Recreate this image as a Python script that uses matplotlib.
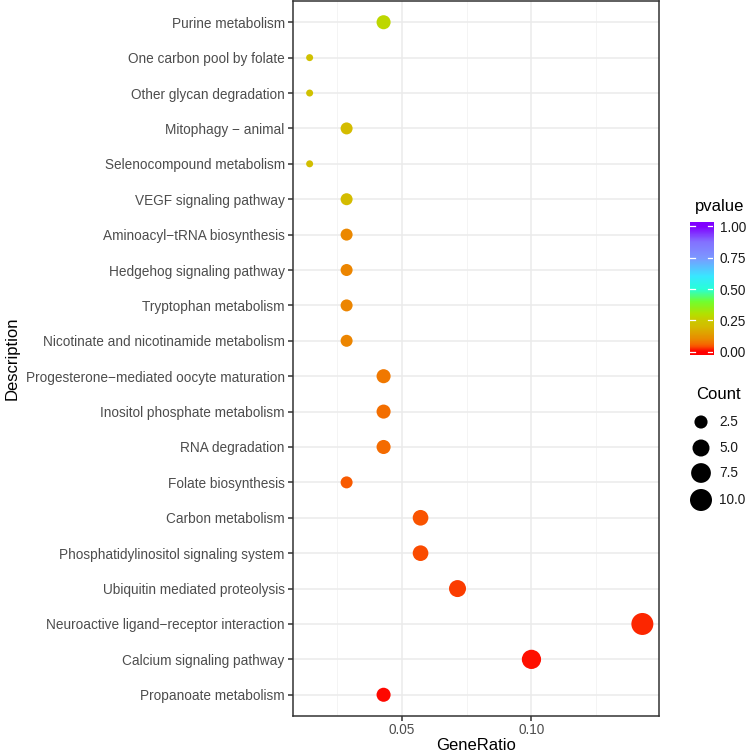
import numpy as np
import matplotlib
matplotlib.use('Agg')
import matplotlib.pyplot as plt
from matplotlib.colors import LinearSegmentedColormap, Normalize

plt.rcParams['font.family'] = ['Liberation Sans', 'DejaVu Sans']

# data, bottom to top
descriptions = [
    'Propanoate metabolism', 'Calcium signaling pathway',
    'Neuroactive ligand\u2212receptor interaction', 'Ubiquitin mediated proteolysis',
    'Phosphatidylinositol signaling system', 'Carbon metabolism',
    'Folate biosynthesis', 'RNA degradation', 'Inositol phosphate metabolism',
    'Progesterone\u2212mediated oocyte maturation',
    'Nicotinate and nicotinamide metabolism', 'Tryptophan metabolism',
    'Hedgehog signaling pathway', 'Aminoacyl\u2212tRNA biosynthesis',
    'VEGF signaling pathway', 'Selenocompound metabolism',
    'Mitophagy \u2212 animal', 'Other glycan degradation',
    'One carbon pool by folate', 'Purine metabolism',
]
counts = [3, 7, 10, 5, 4, 4, 2, 3, 3, 3, 2, 2, 2, 2, 2, 1, 2, 1, 1, 3]
total = 70
pvalues = [0.005, 0.01, 0.02, 0.035, 0.04, 0.045, 0.05, 0.065, 0.07, 0.08,
           0.095, 0.095, 0.095, 0.1, 0.2, 0.21, 0.2, 0.22, 0.22, 0.28]
gene_ratio = [c / total for c in counts]

# colour scale like the ggplot gradient
cmap = LinearSegmentedColormap.from_list('pv', [
    (0.0, '#FF0000'), (0.05, '#F86000'), (0.1, '#EA8A00'), (0.2, '#D4BC00'),
    (0.25, '#CACA00'), (0.3, '#B4E000'), (0.4, '#70FF30'), (0.5, '#28FFD8'),
    (0.6, '#38E8FF'), (0.75, '#7C98FF'), (0.88, '#8470FF'), (1.0, '#8000FF')])
norm = Normalize(0, 1)

cmin, cmax = min(counts), max(counts)


def dot_size(c):
    # diameter in px, area scaled like scale_size
    d = 7 + 15 * np.sqrt((np.asarray(c, float) - cmin) / (cmax - cmin))
    d_pt = d * 72 / 100
    return d_pt ** 2


fig = plt.figure(figsize=(7.47, 7.56), dpi=100)
ax = fig.add_axes([293 / 747, 1 - 716 / 756, 366 / 747, 715 / 756])

y = np.arange(1, len(descriptions) + 1)
ax.scatter(gene_ratio, y, s=dot_size(counts), c=pvalues, cmap=cmap, norm=norm,
           linewidths=0, zorder=3)

ax.set_ylim(0.4, len(descriptions) + 0.6)
ax.set_yticks(y)
ax.set_yticklabels(descriptions)
xr = max(gene_ratio) - min(gene_ratio)
ax.set_xlim(min(gene_ratio) - 0.05 * xr, max(gene_ratio) + 0.05 * xr)
ax.set_xticks([0.05, 0.10])
ax.set_xticklabels(['0.05', '0.10'])
ax.set_xticks([0.025, 0.075, 0.125], minor=True)

ax.grid(True, which='major', color='#EBEBEB', linewidth=1.1, zorder=0)
ax.grid(True, which='minor', axis='x', color='#F2F2F2', linewidth=0.6, zorder=0)
ax.set_axisbelow(True)
for sp in ax.spines.values():
    sp.set_color('#333333')
    sp.set_linewidth(1.1)
ax.tick_params(axis='both', which='major', length=3.5, width=1.1, color='#333333',
               labelsize=9.8, labelcolor='#4D4D4D', pad=2.5)
ax.tick_params(axis='x', which='major', pad=1.5)
ax.tick_params(axis='x', which='minor', length=0)

ax.set_xlabel('GeneRatio', fontsize=12, labelpad=1)
ax.set_ylabel('Description', fontsize=12, labelpad=4)

# pvalue colourbar
fig.text(695 / 747, 1 - 207 / 756, 'pvalue', fontsize=12, va='center', ha='left')
cax = fig.add_axes([690 / 747, 1 - 355 / 756, 23 / 747, 133 / 756])
lo, hi = -0.024, 1.032
grad = np.linspace(lo, hi, 300).reshape(-1, 1)
cax.imshow(np.clip(grad, 0, 1), cmap=cmap, norm=norm, aspect='auto',
           origin='lower', extent=[0, 1, lo, hi])
cax.set_xlim(0, 1)
cax.set_ylim(lo, hi)
cax.set_xticks([])
pv_ticks = [0.0, 0.25, 0.5, 0.75, 1.0]
cax.set_yticks(pv_ticks)
cax.set_yticklabels(['0.00', '0.25', '0.50', '0.75', '1.00'])
cax.yaxis.tick_right()
cax.tick_params(axis='y', length=0, labelsize=9.8, labelcolor='#1A1A1A', pad=5)
for t in pv_ticks:
    cax.plot([0, 0.2], [t, t], color='white', lw=0.9)
    cax.plot([0.8, 1], [t, t], color='white', lw=0.9)
for sp in cax.spines.values():
    sp.set_visible(False)

# Count legend
legend_counts = [2.5, 5.0, 7.5, 10.0]
legend_y = [422, 448, 473, 500]
fig.text(696 / 747, 1 - 395 / 756, 'Count', fontsize=12, va='center', ha='left')
lax = fig.add_axes([0, 0, 1, 1], facecolor='none')
lax.set_xlim(0, 747)
lax.set_ylim(756, 0)
lax.axis('off')
lax.scatter([701] * 4, legend_y, s=dot_size(legend_counts), color='black',
            linewidths=0)
for c, yy in zip(legend_counts, legend_y):
    lax.text(719, yy, f'{c:.1f}', fontsize=9.8, va='center', ha='left',
             color='#1A1A1A')

fig.savefig('out.png', dpi=100)
